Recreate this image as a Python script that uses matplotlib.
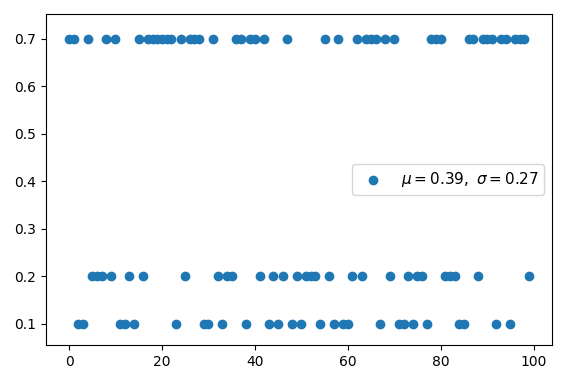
"""Scatter of 100 samples drawn from {0.1, 0.2, 0.7}, with mean/std in the legend."""
import numpy as np
import matplotlib
matplotlib.use("Agg")
import matplotlib.pyplot as plt

# sample indices for each level
x_07 = [0, 1, 4, 8, 10, 15, 17, 18, 19, 20, 21, 22, 24, 26, 27, 28, 31, 36, 37, 39,
        40, 42, 47, 55, 58, 62, 64, 65, 66, 68, 70, 78, 79, 80, 86, 87, 89, 90, 91,
        93, 94, 96, 97, 98]
x_02 = [5, 6, 7, 9, 13, 16, 25, 32, 34, 35, 41, 44, 46, 49, 51, 52, 53, 56, 61, 63,
        69, 73, 75, 76, 81, 82, 83, 88, 99]
x_01 = [2, 3, 11, 12, 14, 23, 29, 30, 33, 38, 43, 45, 48, 50, 54, 57, 59, 60, 67, 71,
        72, 74, 77, 84, 85, 92, 95]
levels = {0.7: x_07, 0.2: x_02, 0.1: x_01}

n = len(x_07) + len(x_02) + len(x_01)
y = np.zeros(n)
for level, xs in levels.items():
    y[xs] = level
x = np.arange(n)

mu, sigma = y.mean(), y.std()

fig = plt.figure(figsize=(5.67, 3.81), dpi=100)
ax = fig.add_axes([46 / 567, 1 - 345 / 381, 506 / 567, 331 / 381])
ax.scatter(x, y, label=rf"$\mu = {mu:.2f},\ \sigma = {sigma:.2f}$")
ax.set_ylim(0.055, 0.752)
ax.legend(loc="center right", fontsize=11)
fig.savefig("out.png", dpi=100)
